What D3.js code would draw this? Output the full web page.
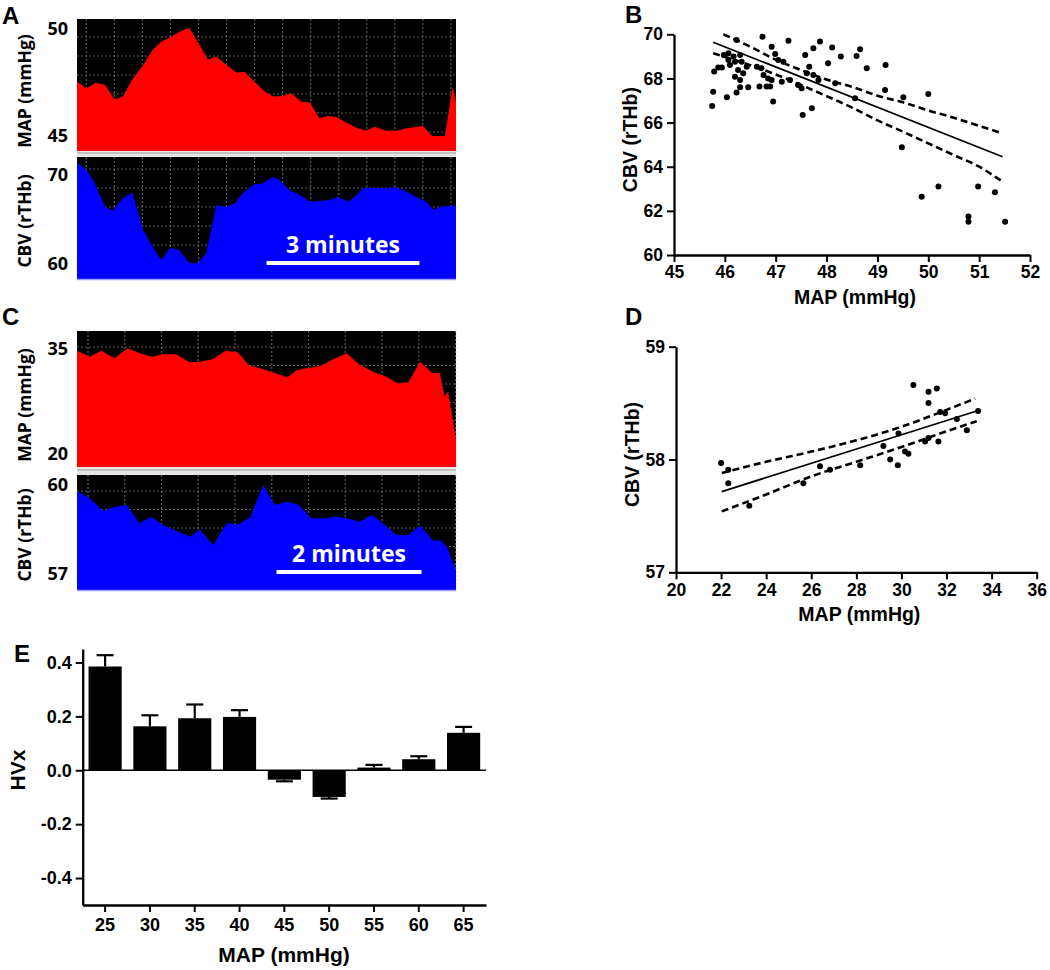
<!DOCTYPE html>
<html><head><meta charset="utf-8">
<script src="https://cdn.jsdelivr.net/npm/d3@7"></script>
<style>body{margin:0;background:#fff} svg{display:block}</style>
</head><body>
<svg id="fig" width="1050" height="970"></svg>
<script>
// ---------- DATA ----------
// Panel A (time in s)
const aMapT = [0,11,22,33,44,54,66,78,89,99,111,121,132,142,154,164,176,188,197,209,221,231,242,252,264,274,285,295,305,317,329,340,350,364,376,388,407,418,427,433,442,446];
const aMapV = [47.54,47.23,47.49,47.38,46.71,46.84,47.70,48.32,49.02,49.41,49.64,49.87,50.06,49.41,48.58,48.71,48.32,47.96,48.0,47.54,47.07,46.84,46.87,47.0,46.60,46.56,45.83,45.93,45.90,45.62,45.39,45.25,45.43,45.25,45.25,45.36,45.47,45.0,45.0,45.0,47.3,46.6];
const aCbvT = [0,11,19,33,42,54,65,78,89,99,109,119,133,142,152,164,176,186,195,207,219,231,238,250,262,274,285,297,307,319,329,338,352,364,376,388,399,411,420,427,446];
const aCbvV = [71.43,70.56,69.44,66.44,65.99,67.38,68.01,63.82,61.94,60.45,61.76,61.65,60.08,60.08,61.20,66.63,66.44,66.82,67.94,68.88,69.07,69.81,69.44,68.31,67.75,67.0,67.08,67.19,67.56,67.0,67.75,68.57,68.57,68.51,68.62,68.12,67.56,67.0,66.07,66.44,66.6];
const aMapTicks = [50,45];
const aCbvTicks = [70,60];
// Panel C (time in s)
const cMapT = [0,10.5,20,31,42,52,62,71,82,93,102,112,123,133,142,154,163,174,182,193,201,212,223,234,245,256,265,274,284,294,300,304,307,313.5];
const cMapV = [34.66,33.8,34.66,33.57,35.0,34.29,33.8,34.14,34.14,33.0,33.09,33.43,34.66,34.43,32.61,32.0,31.51,30.86,31.9,32.23,32.47,33.43,34.29,32.61,31.66,30.94,30.0,30.14,33.09,31.43,31.51,28.2,28.8,22.0];
const cCbvT = [0,10.5,21.5,31.2,40.9,51.9,61.6,71.2,82.3,93.3,101.6,112.6,123.7,133.3,143,154,163.7,173.3,183,194,205,213.3,223,234,243.7,254.7,264.4,274,283.7,294.7,300.2,306,313.5];
const cCbvV = [59.80,59.55,59.12,59.26,59.32,58.70,58.92,58.64,58.44,58.24,58.49,57.96,58.70,58.66,58.89,60.0,59.32,59.43,59.34,58.87,58.87,58.92,58.87,58.75,58.98,58.64,58.30,58.30,58.62,58.10,58.13,57.9,57.1];
const cMapTicks = [35,20];
const cCbvTicks = [60,57];
// Panel B scatter
const bX = [45.75,45.77,45.79,45.87,45.94,45.98,46.04,46.07,46.07,46.10,46.17,46.20,46.20,46.23,46.23,46.26,46.30,46.30,46.33,46.36,46.43,46.46,46.30,46.63,46.68,46.72,46.74,46.76,46.82,46.85,46.89,46.92,46.92,46.95,46.99,47.05,47.12,47.15,47.25,47.28,47.44,47.51,47.53,47.58,47.61,47.66,47.71,47.74,47.74,47.84,47.87,48.03,48.11,48.17,48.28,48.56,48.59,48.66,48.79,49.15,49.16,49.48,49.51,49.87,50.0,50.2,50.79,50.79,50.98,51.31,51.51];
const bY = [66.75,67.40,68.31,68.5,68.5,69.06,67.15,69.14,68.84,68.61,68.99,68.76,68.08,69.74,67.36,68.38,67.93,69.06,68.76,68.23,68.53,67.6,67.6,68.53,67.63,68.46,69.89,68.16,67.63,68.0,67.63,69.44,67.93,66.95,69.11,68.84,67.85,68.76,69.71,67.93,67.70,67.55,66.34,69.06,68.23,68.53,66.65,69.37,68.16,67.93,69.67,68.69,69.40,67.78,68.99,67.1,69.02,69.32,68.46,67.48,68.61,64.88,67.15,62.64,67.30,63.10,61.74,61.51,63.10,62.84,61.51];
const bFitX = [45.77,51.46], bFitY = [69.64,64.45];
const bUpX = [45.97,46.5,47,47.5,48,48.5,49,49.5,50,50.5,51,51.46];
const bUpY = [70.0,69.44,68.85,68.38,67.95,67.62,67.22,66.92,66.55,66.22,65.85,65.51];
const bLoX = [45.77,46.5,47,47.5,48,48.5,49,49.5,50,50.5,51,51.46];
const bLoY = [69.14,68.6,68.18,67.7,67.2,66.68,66.1,65.59,65.06,64.53,64.0,63.32];
const bXTicks = [45,46,47,48,49,50,51,52];
const bYTicks = [60,62,64,66,68,70];
// Panel D scatter
const dX = [22.0,22.32,22.32,23.25,25.65,26.39,26.83,28.17,29.2,29.5,29.84,29.87,30.16,30.31,30.53,31.05,31.2,31.2,31.2,31.57,31.64,31.72,31.94,32.46,32.9,33.4];
const dY = [57.97,57.91,57.79,57.59,57.79,57.94,57.91,57.95,58.12,58.0,57.95,58.23,58.07,58.05,58.66,58.16,58.19,58.5,58.60,58.63,58.16,58.42,58.41,58.36,58.26,58.43];
const dFitX = [22.03,33.34], dFitY = [57.715,58.43];
const dUpX = [22.03,24,26,28,30,32,33.27];
const dUpY = [57.88,57.98,58.07,58.17,58.29,58.44,58.54];
const dLoX = [22.03,24,26,28,30,32,33.34];
const dLoY = [57.54,57.69,57.85,57.98,58.11,58.25,58.34];
const dXTicks = [20,22,24,26,28,30,32,34,36];
const dYTicks = [57,58,59];
// Panel E bars
const eCats = ['25','30','35','40','45','50','55','60','65'];
const eHvx = [0.385,0.163,0.193,0.198,-0.035,-0.099,0.010,0.041,0.139];
const eSem = [0.042,0.041,0.051,0.025,0.006,0.006,0.010,0.011,0.022];
const eYTicks = [-0.4,-0.2,0.0,0.2,0.4];

// ---------- DRAW ----------
const svg = d3.select('#fig');
const ARIAL = '"Liberation Sans", Arial, sans-serif';
const CAL = '"Open Sans", Lato, sans-serif';

function panelLetter(t, x, y) {
  svg.append('text').attr('x', x).attr('y', y).text(t)
    .attr('font-family', ARIAL).attr('font-weight', 'bold').attr('font-size', 24).attr('fill', '#000');
}

function trace(cfg) {
  const g = svg.append('g');
  const x = d3.scaleLinear().domain([0, cfg.tMax]).range([cfg.x0, cfg.x1]);
  const y = d3.scaleLinear().domain(cfg.yDom).range(cfg.yRange);
  g.append('rect').attr('x', cfg.x0).attr('y', cfg.y0).attr('width', cfg.x1 - cfg.x0).attr('height', cfg.y1 - cfg.y0).attr('fill', '#000');
  d3.range(cfg.gridT0, cfg.tMax, cfg.gridDT).forEach(t => {
    g.append('line').attr('x1', x(t)).attr('x2', x(t)).attr('y1', cfg.y0).attr('y2', cfg.y1)
      .attr('stroke', '#5a5a5a').attr('stroke-width', 1.2).attr('stroke-dasharray', '2,2');
  });
  d3.range(cfg.y0 + cfg.gridY0, cfg.y1, cfg.gridDY).forEach(yy => {
    g.append('line').attr('x1', cfg.x0).attr('x2', cfg.x1).attr('y1', yy).attr('y2', yy)
      .attr('stroke', '#5a5a5a').attr('stroke-width', 1.2).attr('stroke-dasharray', '2,2');
  });
  const pts = cfg.t.map((t, i) => [t, cfg.v[i]]);
  const area = d3.area().x(d => x(d[0])).y0(cfg.y1).y1(d => y(d[1]));
  g.append('path').datum(pts).attr('d', area).attr('fill', cfg.color);
  cfg.ticks.forEach(v => {
    g.append('text').attr('x', cfg.x0 - 9).attr('y', y(v)).attr('dy', '0.36em').attr('text-anchor', 'end')
      .attr('font-family', CAL).attr('font-weight', 'bold').attr('font-size', 18).text(v);
  });
  g.append('text').attr('transform', `translate(${cfg.titleX},${cfg.titleY}) rotate(-90)`)
    .attr('text-anchor', 'middle').attr('dy', '0.35em')
    .attr('font-family', CAL).attr('font-weight', 'bold').attr('font-size', 17.5).text(cfg.title);
  if (cfg.bar) {
    const b = cfg.bar;
    g.append('line').attr('x1', x(b.t0)).attr('x2', x(b.t0 + b.len)).attr('y1', b.y).attr('y2', b.y)
      .attr('stroke', '#fff').attr('stroke-width', 4);
    g.append('text').attr('x', (x(b.t0) + x(b.t0 + b.len)) / 2).attr('y', b.y - 10).attr('text-anchor', 'middle')
      .attr('font-family', CAL).attr('font-weight', 'bold').attr('font-size', 23).attr('fill', '#fff').text(b.label);
  }
  return x;
}

const RIGHT = 456;
// Panel A
panelLetter('A', 2, 24);
trace({x0: 77, x1: RIGHT, y0: 19, y1: 151, tMax: 446, yDom: [45, 50], yRange: [136, 29],
  t: aMapT, v: aMapV, color: '#ff0000', ticks: aMapTicks, gridT0: 11, gridDT: 33, gridY0: 18, gridDY: 19,
  title: 'MAP (mmHg)', titleX: 25, titleY: 91});
svg.append('rect').attr('x', 77).attr('y', 151).attr('width', RIGHT - 77).attr('height', 6).attr('fill', '#e6e6e6');
svg.append('line').attr('x1', 77).attr('x2', RIGHT).attr('y1', 153).attr('y2', 153).attr('stroke', '#b5b5b5').attr('stroke-width', 1.5);
trace({x0: 77, x1: RIGHT, y0: 157, y1: 279, tMax: 446, yDom: [60, 70], yRange: [264, 175],
  t: aCbvT, v: aCbvV, color: '#0000ff', ticks: aCbvTicks, gridT0: 11, gridDT: 33, gridY0: 12, gridDY: 19,
  title: 'CBV (rTHb)', titleX: 25, titleY: 221, bar: {t0: 223, len: 180, y: 263, label: '3 minutes'}});
svg.append('line').attr('x1', 77).attr('x2', RIGHT).attr('y1', 279.5).attr('y2', 279.5).attr('stroke', '#9a9aff').attr('stroke-width', 1.5);

// Panel C
panelLetter('C', 2, 325);
trace({x0: 77, x1: RIGHT, y0: 331, y1: 467, tMax: 313.5, yDom: [20, 35], yRange: [453.3, 348.3],
  t: cMapT, v: cMapV, color: '#ff0000', ticks: cMapTicks, gridT0: 9.1, gridDT: 30.4, gridY0: 16, gridDY: 18.5,
  title: 'MAP (mmHg)', titleX: 25, titleY: 405});
svg.append('rect').attr('x', 77).attr('y', 467).attr('width', RIGHT - 77).attr('height', 8).attr('fill', '#e6e6e6');
svg.append('line').attr('x1', 77).attr('x2', RIGHT).attr('y1', 470).attr('y2', 470).attr('stroke', '#b5b5b5').attr('stroke-width', 1.5);
trace({x0: 77, x1: RIGHT, y0: 475, y1: 590, tMax: 313.5, yDom: [57, 60], yRange: [573.3, 485],
  t: cCbvT, v: cCbvV, color: '#0000ff', ticks: cCbvTicks, gridT0: 9.1, gridDT: 30.4, gridY0: 16, gridDY: 18.5,
  title: 'CBV (rTHb)', titleX: 25, titleY: 535, bar: {t0: 165, len: 120, y: 572, label: '2 minutes'}});
svg.append('line').attr('x1', 77).attr('x2', RIGHT).attr('y1', 590.5).attr('y2', 590.5).attr('stroke', '#9a9aff').attr('stroke-width', 1.5);

// Scatter panels
function styleAxis(sel, fs) {
  sel.selectAll('path').attr('stroke', '#000').attr('stroke-width', 2.3);
  sel.selectAll('line').attr('stroke', '#000').attr('stroke-width', 2);
  sel.selectAll('text').attr('font-family', ARIAL).attr('font-weight', 'bold').attr('font-size', fs).attr('fill', '#000');
}
function scatter(cfg) {
  const g = svg.append('g');
  const x = d3.scaleLinear().domain(cfg.xDom).range(cfg.xRange);
  const y = d3.scaleLinear().domain(cfg.yDom).range(cfg.yRange);
  const xa = g.append('g').attr('transform', `translate(0,${cfg.yRange[0]})`)
    .call(d3.axisBottom(x).tickValues(cfg.xTicks).tickSize(7).tickPadding(4).tickSizeOuter(0).tickFormat(d3.format('d')));
  const ya = g.append('g').attr('transform', `translate(${cfg.xRange[0]},0)`)
    .call(d3.axisLeft(y).tickValues(cfg.yTicks).tickSize(7).tickPadding(4).tickSizeOuter(0).tickFormat(d3.format('d')));
  styleAxis(xa, 17.5); styleAxis(ya, 17.5);
  const line = d3.line().x(d => x(d[0])).y(d => y(d[1])).curve(d3.curveMonotoneX);
  g.append('path').datum(cfg.upX.map((v, i) => [v, cfg.upY[i]])).attr('d', line)
    .attr('fill', 'none').attr('stroke', '#000').attr('stroke-width', 2.6).attr('stroke-dasharray', '7,4');
  g.append('path').datum(cfg.loX.map((v, i) => [v, cfg.loY[i]])).attr('d', line)
    .attr('fill', 'none').attr('stroke', '#000').attr('stroke-width', 2.6).attr('stroke-dasharray', '7,4');
  g.append('path').datum(cfg.fitX.map((v, i) => [v, cfg.fitY[i]])).attr('d', d3.line().x(d => x(d[0])).y(d => y(d[1])))
    .attr('fill', 'none').attr('stroke', '#000').attr('stroke-width', 1.8);
  g.selectAll('circle.pt').data(cfg.px.map((v, i) => [v, cfg.py[i]])).join('circle')
    .attr('cx', d => x(d[0])).attr('cy', d => y(d[1])).attr('r', 3).attr('fill', '#000');
  g.append('text').attr('x', (cfg.xRange[0] + cfg.xRange[1]) / 2 + 3).attr('y', cfg.yRange[0] + 49)
    .attr('text-anchor', 'middle').attr('font-family', ARIAL).attr('font-weight', 'bold').attr('font-size', 19.5).text('MAP (mmHg)');
  g.append('text').attr('transform', `translate(${cfg.titleX},${(cfg.yRange[0] + cfg.yRange[1]) / 2 - 5}) rotate(-90)`)
    .attr('text-anchor', 'middle').attr('dy', '0.35em').attr('font-family', ARIAL).attr('font-weight', 'bold').attr('font-size', 19.5).text('CBV (rTHb)');
}
panelLetter('B', 625, 23);
scatter({xDom: [45, 52], xRange: [674, 1030], yDom: [60, 70], yRange: [255, 34.3], xTicks: bXTicks, yTicks: bYTicks,
  px: bX, py: bY, fitX: bFitX, fitY: bFitY, upX: bUpX, upY: bUpY, loX: bLoX, loY: bLoY, titleX: 630});
panelLetter('D', 625, 325);
scatter({xDom: [20, 36], xRange: [676, 1036.7], yDom: [57, 59], yRange: [572.3, 346.7], xTicks: dXTicks, yTicks: dYTicks,
  px: dX, py: dY, fitX: dFitX, fitY: dFitY, upX: dUpX, upY: dUpY, loX: dLoX, loY: dLoY, titleX: 632});

// Panel E
panelLetter('E', 14, 662);
{
  const g = svg.append('g');
  const x = d3.scaleBand().domain(eCats).range([82.7, 486]).paddingInner(0.26).paddingOuter(0.13);
  const y = d3.scaleLinear().domain([-0.5, 0.45]).range([905, 649]);
  g.selectAll('rect.bar').data(eCats).join('rect')
    .attr('x', d => x(d)).attr('width', x.bandwidth())
    .attr('y', (d, i) => y(Math.max(0, eHvx[i]))).attr('height', (d, i) => Math.abs(y(eHvx[i]) - y(0)))
    .attr('fill', '#000');
  eCats.forEach((c, i) => {
    const cx = x(c) + x.bandwidth() / 2;
    const v = eHvx[i], e = v >= 0 ? v + eSem[i] : v - eSem[i];
    g.append('line').attr('x1', cx).attr('x2', cx).attr('y1', y(v)).attr('y2', y(e)).attr('stroke', '#000').attr('stroke-width', 2.2);
    g.append('line').attr('x1', cx - 8.5).attr('x2', cx + 8.5).attr('y1', y(e)).attr('y2', y(e)).attr('stroke', '#000').attr('stroke-width', 2.2);
  });
  g.append('line').attr('x1', 82.7).attr('x2', 486).attr('y1', y(0)).attr('y2', y(0)).attr('stroke', '#000').attr('stroke-width', 1.5);
  const xa = g.append('g').attr('transform', 'translate(0,905)').call(d3.axisBottom(x).tickSize(7).tickPadding(6).tickSizeOuter(0));
  const ya = g.append('g').attr('transform', 'translate(82.7,0)').call(d3.axisLeft(y).tickValues(eYTicks).tickSize(7).tickPadding(4).tickSizeOuter(0).tickFormat(d3.format('.1f')));
  styleAxis(xa, 18); styleAxis(ya, 18);
  ya.selectAll('text').text(d => d3.format('.1f')(d).replace('−', '-'));
  g.append('text').attr('x', 284).attr('y', 962).attr('text-anchor', 'middle').attr('font-family', ARIAL).attr('font-weight', 'bold').attr('font-size', 21).text('MAP (mmHg)');
  g.append('text').attr('transform', 'translate(18,770) rotate(-90)').attr('text-anchor', 'middle').attr('dy', '0.35em')
    .attr('font-family', ARIAL).attr('font-weight', 'bold').attr('font-size', 21).text('HVx');
}
</script></body></html>
